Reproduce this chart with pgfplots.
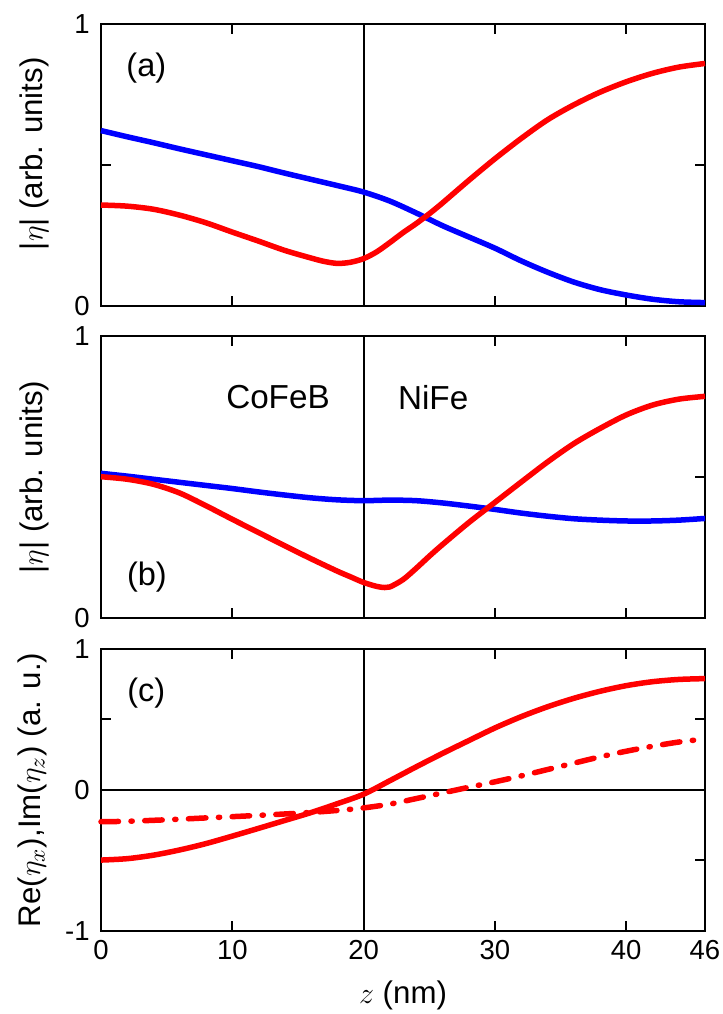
\documentclass[border=0pt]{standalone}
\usepackage{pgfplots}
\pgfplotsset{compat=1.18}
\usepackage{fontspec}
\setmainfont{Liberation Sans}
\definecolor{cred}{RGB}{255,0,0}
\definecolor{cblue}{RGB}{0,0,255}
\pgfplotsset{
  panel/.style={
    scale only axis, width=241.6pt, height=112.8pt,
    xmin=0, xmax=46,
    axis line style={line width=0.8pt},
    every tick/.style={black, line width=0.8pt},
    major tick length=4pt,
    xtick={0,10,20,30,40,46},
    tick label style={font=\fontsize{11}{13}\selectfont},
    label style={font=\fontsize{12.5}{14}\selectfont},
    yticklabel style={xshift=-1pt},
    ylabel style={at={(axis description cs:-0.11,0.5)}, anchor=center},
    anchor=south west,
    clip=false,
  },
  curve/.style={line width=2.2pt, smooth, line join=round},
}
\begin{document}
\begin{tikzpicture}
\path[use as bounding box] (-40.4pt,-33.2pt) rectangle (248.4pt,372.4pt);
% (a)
\begin{axis}[panel, at={(0,250pt)}, ymin=0, ymax=1, ytick={0,0.5,1}, yticklabels={0,,1}, xticklabels={},
  ylabel={|$\eta$| (arb. units)}, ylabel style={at={(axis description cs:-0.11,0.54)}}]
\addplot[black, line width=0.8pt] coordinates {(20,0) (20,1)};
\addplot[curve, cblue] coordinates {
(0,0.622) (2,0.600) (4,0.579) (6,0.557) (8,0.536) (10,0.515) (12,0.494) (14,0.471) (16,0.449) (18,0.427) (20,0.404)
(22,0.372) (24,0.330) (26,0.285) (28,0.245) (30,0.205) (32,0.160) (34,0.120) (36,0.085) (38,0.058) (40,0.039) (42,0.024) (44,0.015) (46,0.012)};
\addplot[curve, cred] coordinates {
(0,0.358) (2,0.354) (4,0.343) (6,0.322) (8,0.295) (10,0.262) (12,0.230) (14,0.197) (16,0.170) (17,0.158) (18,0.151) (19,0.155) (20,0.168)
(21,0.192) (22,0.225) (23,0.260) (24,0.292) (25,0.327) (26,0.365) (28,0.445) (30,0.522) (32,0.594) (34,0.660) (36,0.713) (38,0.758) (40,0.795) (42,0.825) (44,0.847) (46,0.860)};
\node[font=\fontsize{13}{15}\selectfont] at (axis cs:3.45,0.845) {(a)};
\end{axis}
% (b)
\begin{axis}[panel, at={(0,125.2pt)}, ymin=0, ymax=1, ytick={0,0.5,1}, yticklabels={0,,1}, xticklabels={},
  ylabel={|$\eta$| (arb. units)}]
\addplot[black, line width=0.8pt] coordinates {(20,0) (20,1)};
\addplot[curve, cblue] coordinates {
(0,0.513) (2,0.503) (4,0.492) (6,0.481) (8,0.470) (10,0.459) (12,0.447) (14,0.436) (16,0.426) (18,0.419) (20,0.416)
(22,0.418) (24,0.416) (26,0.408) (28,0.397) (30,0.385) (32,0.372) (34,0.361) (36,0.352) (38,0.347) (40,0.344) (42,0.344) (44,0.347) (46,0.353)};
\addplot[curve, cred] coordinates {
(0,0.501) (2,0.492) (4,0.474) (6,0.443) (8,0.398) (10,0.350) (12,0.303) (14,0.256) (16,0.210) (18,0.166) (19,0.146) (20,0.126)
(21,0.112) (21.6,0.108) (22,0.110) (23,0.136) (24,0.176) (25,0.219) (26,0.260) (28,0.338) (30,0.410) (32,0.482) (34,0.553) (36,0.618) (38,0.672) (40,0.720) (42,0.755) (44,0.776) (46,0.786)};
\node[font=\fontsize{13}{15}\selectfont] at (axis cs:3.5,0.145) {(b)};
\node[font=\fontsize{13.3}{15}\selectfont] at (axis cs:13.48,0.782) {CoFeB};
\node[font=\fontsize{13.3}{15}\selectfont] at (axis cs:25.3,0.782) {NiFe};
\end{axis}
% (c)
\begin{axis}[panel, at={(0,0)}, ymin=-1, ymax=1, ytick={-1,-0.5,0,0.5,1}, yticklabels={-1,,0,,1},
  xticklabels={0,10,20,30,40,46},
  ylabel={Re($\eta_x$),Im($\eta_z$) (a. u.)}, ylabel style={at={(axis description cs:-0.114,0.5)}},
  xlabel={$z$ (nm)}, xlabel style={at={(axis description cs:0.5,-0.227)}, anchor=center}]
\addplot[black, line width=0.8pt] coordinates {(20,-1) (20,1)};
\addplot[black, line width=0.8pt] coordinates {(0,0) (46,0)};
\addplot[curve, cred] coordinates {
(0,-0.497) (2,-0.487) (4,-0.462) (6,-0.425) (8,-0.380) (10,-0.327) (12,-0.272) (14,-0.216) (16,-0.160) (18,-0.097) (20,-0.030)
(22,0.066) (24,0.164) (26,0.259) (28,0.350) (30,0.440) (32,0.520) (34,0.590) (36,0.650) (38,0.700) (40,0.740) (42,0.768) (44,0.784) (46,0.790)};
\addplot[curve, cred, line cap=round, dash pattern=on 7pt off 5pt on 0.5pt off 5pt] coordinates {
(0,-0.225) (2,-0.222) (4,-0.215) (6,-0.207) (8,-0.198) (10,-0.189) (12,-0.180) (14,-0.170) (16,-0.159) (18,-0.145) (20,-0.127)
(22,-0.100) (24,-0.061) (26,-0.021) (28,0.019) (30,0.058) (32,0.100) (34,0.145) (36,0.190) (38,0.235) (40,0.275) (42,0.310) (44,0.340) (46,0.362)};
\node[font=\fontsize{13}{15}\selectfont] at (axis cs:3.45,0.69) {(c)};
\end{axis}
\end{tikzpicture}
\end{document}
